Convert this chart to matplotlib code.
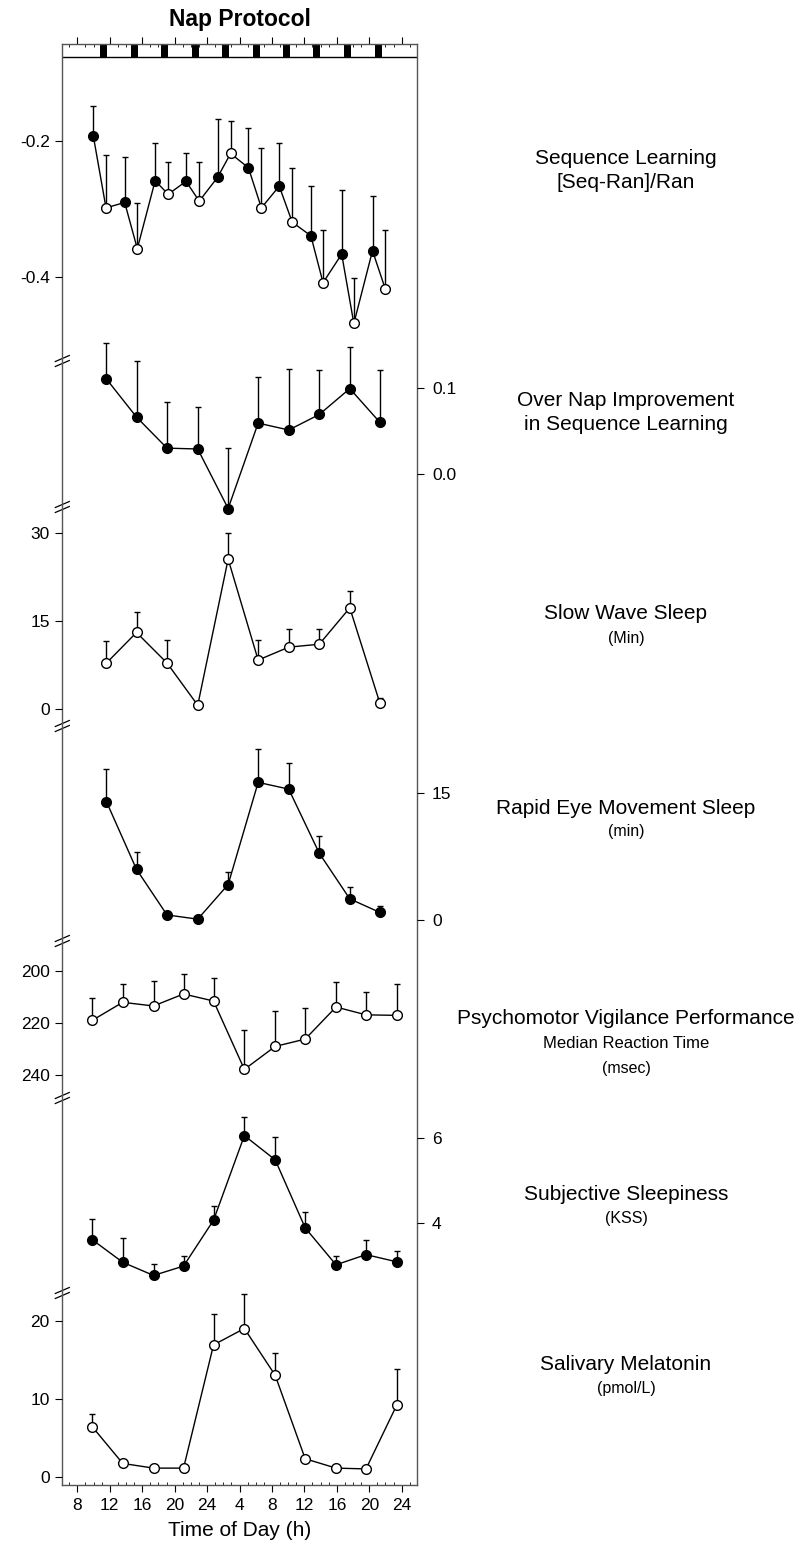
import numpy as np
import matplotlib
matplotlib.use("Agg")
import matplotlib.pyplot as plt

plt.rcParams["font.family"] = ["Liberation Sans", "DejaVu Sans"]

# ---- data (hours since midnight of day 1) ----
nap_centers = [11.2, 15.1, 18.8, 22.6, 26.3, 30.1, 33.8, 37.5, 41.3, 45.1]
nap_width = 0.85

seq_hours = [9.97, 11.54, 13.84, 15.4, 17.6, 19.2, 21.4, 23.04, 25.3, 26.9,
             29.1, 30.7, 32.9, 34.5, 36.8, 38.3, 40.6, 42.1, 44.4, 46.0]
seq_vals = [-0.193, -0.299, -0.291, -0.359, -0.259, -0.279, -0.260, -0.289, -0.254, -0.219,
            -0.240, -0.299, -0.267, -0.320, -0.340, -0.409, -0.367, -0.469, -0.362, -0.419]
seq_sem = [0.044, 0.078, 0.067, 0.067, 0.056, 0.048, 0.042, 0.058, 0.086, 0.048,
           0.058, 0.088, 0.064, 0.079, 0.073, 0.078, 0.094, 0.067, 0.080, 0.088]
seq_filled = [True, False] * 10

nap_hours = [11.6, 15.3, 19.06, 22.85, 26.6, 30.3, 34.07, 37.84, 41.6, 45.3]
impr_vals = [0.110, 0.066, 0.030, 0.029, -0.040, 0.059, 0.051, 0.069, 0.099, 0.060]
impr_sem = [0.042, 0.065, 0.053, 0.049, 0.070, 0.054, 0.071, 0.051, 0.048, 0.060]

sws_vals = [7.9, 13.1, 7.9, 0.7, 25.6, 8.4, 10.6, 11.1, 17.3, 1.1]
sws_sem = [3.8, 3.5, 4.0, 0.0, 4.4, 3.4, 3.1, 2.6, 2.8, 0.8]

rem_vals = [14.0, 6.0, 0.6, 0.1, 4.2, 16.3, 15.5, 7.9, 2.5, 0.9]
rem_sem = [3.9, 2.0, 0.0, 0.0, 1.5, 3.9, 3.1, 2.0, 1.4, 0.8]

test_hours = [9.85, 13.6, 17.4, 21.1, 24.8, 28.6, 32.4, 36.1, 39.9, 43.6, 47.4]
pvt_vals = [219.0, 212.1, 213.5, 208.9, 211.6, 237.8, 229.0, 226.2, 213.9, 216.9, 217.1]
pvt_sem = [8.7, 7.1, 9.7, 7.5, 8.7, 15.1, 13.6, 11.9, 9.6, 8.9, 11.9]

kss_vals = [3.60, 3.07, 2.76, 2.98, 4.06, 6.05, 5.48, 3.88, 3.01, 3.25, 3.08]
kss_sem = [0.49, 0.58, 0.26, 0.24, 0.34, 0.43, 0.53, 0.38, 0.21, 0.34, 0.26]

mel_vals = [6.4, 1.7, 1.1, 1.1, 16.9, 19.0, 13.0, 2.3, 1.1, 1.0, 9.2]
mel_sem = [1.6, 0.0, 0.0, 0.0, 3.9, 4.4, 2.8, 0.3, 0.0, 0.0, 4.6]

xtick_hours = list(range(8, 49, 4))
xtick_labels = ["8", "12", "16", "20", "24", "4", "8", "12", "16", "20", "24"]

# ---- layout helpers (pixel -> figure fraction) ----
W, H = 806, 1556
def fx(px):
    return px / W
def fy(py):
    return 1 - py / H

fl, fr, ft, fb = 62.3, 416.7, 44.0, 1485.0
rect = [fx(fl), fy(fb), fx(fr) - fx(fl), (fb - ft) / H]

fig = plt.figure(figsize=(W / 100, H / 100), dpi=100)
frame = fig.add_axes(rect)
frame.set_xlim(6.15, 49.85)
frame.set_ylim(0, 1)
frame.set_yticks([])
frame.set_xticks(xtick_hours)
frame.set_xticklabels(xtick_labels, fontsize=12.5)
frame.set_xticks(np.arange(7, 50, 1), minor=True)
frame.tick_params(axis="x", which="major", direction="out", length=5, width=0.8,
                  top=True, labeltop=False, pad=4)
frame.tick_params(axis="x", which="minor", direction="in", length=2, width=0.6, top=True)
for s in frame.spines.values():
    s.set_color("#555555")
    s.set_linewidth(1.0)
frame.set_xlabel("Time of Day (h)", fontsize=15, labelpad=6)
frame.set_title("Nap Protocol", fontsize=16.5, fontweight="bold", pad=13)

# nap bars in the top strip
strip_y = (fb - 56.7) / (fb - ft)
frame.broken_barh([(c - nap_width / 2, nap_width) for c in nap_centers],
                  (strip_y, 1 - strip_y), facecolors="black",
                  transform=frame.get_xaxis_transform())
frame.plot([0, 1], [strip_y, strip_y], color="black", lw=1, transform=frame.transAxes)

# axis break marks on left spine
ax_h = fb - ft
ax_w = fr - fl
for py in [361, 507, 726, 941, 1098, 1293]:
    yc = (fb - py) / ax_h
    for off in (-2.5, 2.5):
        frame.plot([-7 / ax_w, 7 / ax_w], [yc + (off - 3) / ax_h, yc + (off + 3) / ax_h],
                   color="black", lw=0.9, transform=frame.transAxes, clip_on=False)


def panel(ylim, ticks, side):
    ax = fig.add_axes(rect, sharex=frame)
    ax.patch.set_visible(False)
    for s in ax.spines.values():
        s.set_visible(False)
    ax.set_ylim(*ylim)
    ax.set_yticks(ticks)
    ax.tick_params(axis="x", which="both", bottom=False, top=False, labelbottom=False)
    if side == "left":
        ax.tick_params(axis="y", left=True, right=False, labelleft=True, labelright=False,
                       direction="out", length=5, width=0.8, labelsize=12.5, pad=4)
    else:
        ax.tick_params(axis="y", left=False, right=True, labelleft=False, labelright=True,
                       direction="out", length=5, width=0.8, labelsize=12.5, pad=6)
    return ax


def series(ax, x, y, sem, filled, down=False):
    x = np.asarray(x)
    y = np.asarray(y)
    sem = np.asarray(sem)
    z = np.zeros_like(sem)
    yerr = [sem, z] if down else [z, sem]
    ax.errorbar(x, y, yerr=yerr, fmt="none", ecolor="black", elinewidth=1.0,
                capsize=2.5, capthick=1.0, zorder=1)
    ax.plot(x, y, color="black", lw=1.0, zorder=2)
    filled = np.asarray(filled)
    ax.plot(x[filled], y[filled], "o", ms=7, mfc="black", mec="black", mew=1, zorder=3)
    ax.plot(x[~filled], y[~filled], "o", ms=7, mfc="white", mec="black", mew=1, zorder=3)


ax1 = panel((-2.177, -0.058), [-0.2, -0.4], "left")
ax1.set_yticklabels(["-0.2", "-0.4"])
series(ax1, seq_hours, seq_vals, seq_sem, seq_filled)

ax2 = panel((-1.1715, 0.4983), [0.0, 0.1], "right")
series(ax2, nap_hours, impr_vals, impr_sem, [True] * len(nap_hours))

ax3 = panel((-132.2, 113.4), [0, 15, 30], "left")
series(ax3, nap_hours, sws_vals, sws_sem, [False] * len(nap_hours))

ax4 = panel((-66.91, 103.74), [0, 15], "right")
series(ax4, nap_hours, rem_vals, rem_sem, [True] * len(nap_hours))

ax5 = panel((397.05, -155.1), [200, 220, 240], "left")
series(ax5, test_hours, pvt_vals, pvt_sem, [False] * len(test_hours), down=True)

ax6 = panel((-2.17, 31.73), [4, 6], "right")
series(ax6, test_hours, kss_vals, kss_sem, [True] * len(test_hours))

ax7 = panel((-1.064, 183.68), [0, 10, 20], "left")
series(ax7, test_hours, mel_vals, mel_sem, [False] * len(test_hours))

# right-hand labels
lx = fx(626)
labels = [
    (158, "Sequence Learning", 15), (182, "[Seq-Ran]/Ran", 15),
    (401, "Over Nap Improvement", 15), (425, "in Sequence Learning", 15),
    (614, "Slow Wave Sleep", 15), (638, "(Min)", 11.5),
    (808, "Rapid Eye Movement Sleep", 15), (832, "(min)", 11.5),
    (1019, "Psychomotor Vigilance Performance", 15), (1044, "Median Reaction Time", 12),
    (1068, "(msec)", 11.5),
    (1194, "Subjective Sleepiness", 15), (1218, "(KSS)", 11.5),
    (1364, "Salivary Melatonin", 15), (1389, "(pmol/L)", 11.5),
]
for py, txt, size in labels:
    fig.text(lx, fy(py), txt, ha="center", va="center", fontsize=size)

fig.savefig("out.png", dpi=100)
